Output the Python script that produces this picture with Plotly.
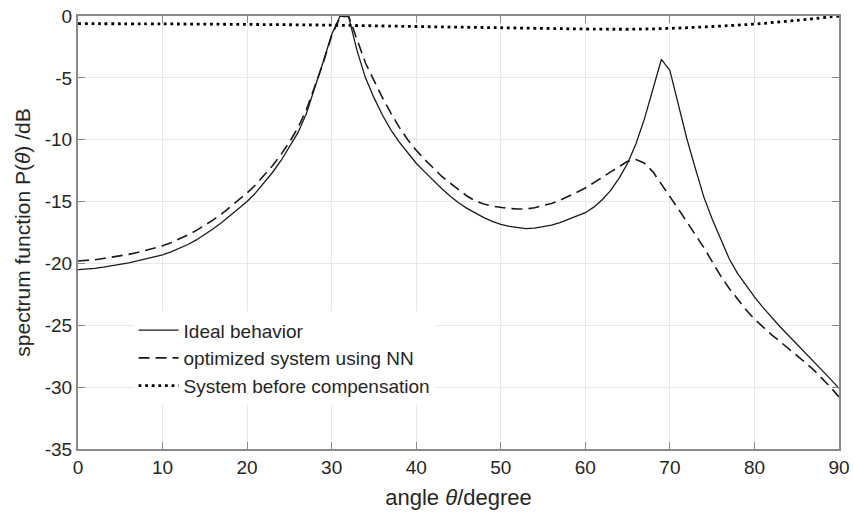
import plotly.graph_objects as go

# Scan angles (degrees), one sample per degree
angles = list(range(0, 91))

# Spectrum function P(theta) in dB for the ideal array
p_ideal = [
    -20.5, -20.47, -20.4, -20.3, -20.2, -20.08, -19.95, -19.8, -19.65, -19.48,
    -19.3, -19.07, -18.8, -18.47, -18.1, -17.67, -17.2, -16.7, -16.15, -15.6,
    -15.0, -14.3, -13.5, -12.65, -11.7, -10.6, -9.45, -7.9, -5.85, -3.7,
    -1.5, 0.0, -0.05, -2.8, -5.0, -6.6, -8.0, -9.2, -10.2, -11.1,
    -11.9, -12.6, -13.3, -13.95, -14.55, -15.1, -15.55, -15.95, -16.3, -16.6,
    -16.85, -17.0, -17.12, -17.18, -17.15, -17.05, -16.9, -16.7, -16.45, -16.2,
    -15.9, -15.45, -14.85, -14.1, -13.1, -11.9, -10.3, -8.3, -6.0, -3.5,
    -4.4, -7.2, -9.9, -12.3, -14.6, -16.4, -18.0, -19.6, -20.8, -21.8,
    -22.7, -23.55, -24.35, -25.1, -25.8, -26.5, -27.2, -27.9, -28.65, -29.35,
    -30.1,
]

# Spectrum function P(theta) in dB for the NN-compensated system
p_nn = [
    -19.8, -19.77, -19.7, -19.6, -19.5, -19.4, -19.27, -19.12, -18.95, -18.78,
    -18.58, -18.32, -18.03, -17.7, -17.33, -16.93, -16.48, -16.0, -15.45, -14.9,
    -14.3, -13.65, -12.9, -12.1, -11.2, -10.2, -9.05, -7.6, -5.7, -3.8,
    -1.6, -0.1, 0.0, -1.9, -3.8, -5.2, -6.6, -7.85, -9.0, -10.0,
    -10.85, -11.6, -12.3, -12.95, -13.5, -14.05, -14.55, -14.95, -15.2, -15.38,
    -15.5, -15.56, -15.6, -15.6, -15.5, -15.35, -15.15, -14.9, -14.6, -14.25,
    -13.9, -13.5, -13.05, -12.6, -12.15, -11.75, -11.6, -11.9, -12.6, -13.55,
    -14.6, -15.6, -16.6, -17.6, -18.7, -19.85, -21.0, -22.0, -22.9, -23.75,
    -24.5, -25.15, -25.75, -26.3, -26.85, -27.4, -28.0, -28.6, -29.3, -30.0,
    -30.8,
]

# Uncompensated system, sampled coarsely (slowly varying)
angle_before = [0, 10, 20, 30, 40, 50, 60, 65, 70, 75, 80, 85, 90]
p_before = [-0.62, -0.64, -0.68, -0.74, -0.85, -0.95, -1.05, -1.07, -1.0, -0.85,
            -0.65, -0.35, 0.0]

x_ticks = [0, 10, 20, 30, 40, 50, 60, 70, 80, 90]
y_ticks = [-35, -30, -25, -20, -15, -10, -5, 0]

FONT = "Liberation Sans, Arial, Helvetica, sans-serif"
TEXT = "#262626"
AXIS = "#8a8a8a"
GRID = "#e8e8e8"

fig = go.Figure()
fig.add_trace(go.Scatter(
    x=angles, y=p_ideal, mode="lines", name="Ideal behavior",
    line=dict(color="#1a1a1a", width=1.3)))
fig.add_trace(go.Scatter(
    x=angles, y=p_nn, mode="lines", name="optimized system using NN",
    line=dict(color="#1a1a1a", width=1.6, dash="11px,6px")))
fig.add_trace(go.Scatter(
    x=angle_before, y=p_before, mode="lines", name="System before compensation",
    line=dict(color="#000000", width=2.8, dash="2.8px,3.8px", shape="spline")))

axis_common = dict(
    automargin=False,
    showline=True, linecolor=AXIS, linewidth=2, mirror="ticks",
    ticks="inside", ticklen=7, tickwidth=1.3, tickcolor=AXIS,
    showgrid=True, gridcolor=GRID, gridwidth=1, zeroline=False,
    tickfont=dict(family=FONT, size=19, color=TEXT),
)

fig.update_xaxes(
    range=[0, 90], tickvals=x_ticks, ticktext=[str(v) for v in x_ticks],
    title=dict(text="angle <i>θ</i>/degree", font=dict(family=FONT, size=22, color=TEXT),
               standoff=13),
    **axis_common)
fig.update_yaxes(
    range=[-35, 0], tickvals=y_ticks, ticktext=[str(v) for v in y_ticks],
    title=dict(text="spectrum function P(<i>θ</i>) /dB",
               font=dict(family=FONT, size=21, color=TEXT), standoff=8),
    **axis_common)

fig.update_layout(
    width=854, height=514,
    margin=dict(l=78, r=15, t=16, b=65),
    paper_bgcolor="white", plot_bgcolor="white",
    font=dict(family=FONT, color=TEXT),
    legend=dict(
        x=0.073, y=0.318, xanchor="left", yanchor="top",
        bgcolor="white", borderwidth=0,
        font=dict(family=FONT, size=19, color=TEXT),
        tracegroupgap=0, itemwidth=40,
    ),
)

fig.write_html("out.html")
